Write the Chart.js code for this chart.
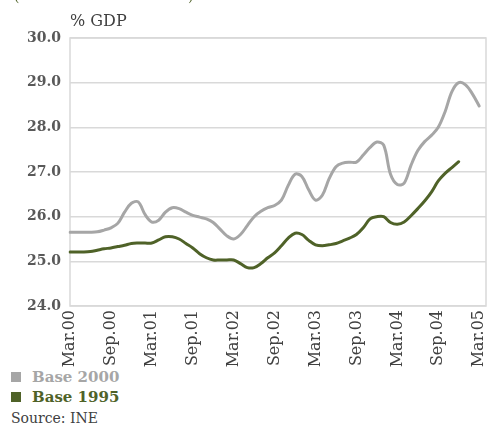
<!DOCTYPE html>
<html>
<head>
<meta charset="utf-8">
<script src="https://cdn.jsdelivr.net/npm/chart.js@4/dist/chart.umd.min.js"></script>
<style>
  body { margin: 0; width: 487px; height: 425px; background: #fff; position: relative; overflow: hidden; font-family: "DejaVu Serif", serif; }
  #wrap { position: absolute; left: 0; top: 0; width: 487px; height: 368px; }
  .txt { position: absolute; white-space: nowrap; line-height: 1; }
  .unit { left: 70px; top: 13px; font-size: 16px; color: #404040; }
  .paren { top: -11px; font-size: 14px; color: #4f6228; }
  .leg { left: 11px; font-size: 15px; font-weight: bold; }
  .leg span { display: inline-block; width: 10px; height: 10px; margin-right: 11px; vertical-align: 0px; }
  .src { left: 11px; top: 411px; font-size: 14px; color: #404040; }
</style>
</head>
<body>
<div id="wrap"><canvas id="chart"></canvas></div>
<div class="txt paren" style="left:14px">(</div>
<div class="txt paren" style="left:188px">)</div>
<div class="txt unit">% GDP</div>
<div class="txt leg" style="top:370px;color:#a6a6a6"><span style="background:#a6a6a6"></span>Base 2000</div>
<div class="txt leg" style="top:390px;color:#4f6228"><span style="background:#4f6228"></span>Base 1995</div>
<div class="txt src">Source: INE</div>
<script>
/***************************************
 * Data (monthly, Mar.00 - Apr.05)
 ***************************************/
const monthNames = ['Mar', 'Apr', 'May', 'Jun', 'Jul', 'Aug', 'Sep', 'Oct', 'Nov', 'Dec', 'Jan', 'Feb'];

const base2000 = [
  25.65, 25.65, 25.65, 25.65, 25.66, 25.70, 25.75, 25.85, 26.10, 26.30, 26.33, 26.05,
  25.88, 25.92, 26.10, 26.20, 26.18, 26.10, 26.03, 25.99, 25.95, 25.87, 25.72, 25.57,
  25.50, 25.60, 25.80, 26.00, 26.12, 26.20, 26.25, 26.37, 26.70, 26.95, 26.90, 26.60,
  26.37, 26.48, 26.85, 27.12, 27.20, 27.22, 27.22, 27.38, 27.55, 27.67, 27.60, 26.95,
  26.72, 26.75, 27.15, 27.48, 27.68, 27.82, 28.00, 28.35, 28.80, 29.00, 28.95, 28.75,
  28.48
];

const base1995 = [
  25.21, 25.21, 25.21, 25.22, 25.25, 25.28, 25.30, 25.33, 25.36, 25.40, 25.41, 25.41,
  25.41, 25.48, 25.55, 25.55, 25.50, 25.40, 25.30, 25.17, 25.08, 25.03, 25.03, 25.03,
  25.03, 24.95, 24.86, 24.86, 24.95, 25.08, 25.19, 25.35, 25.52, 25.63, 25.60, 25.47,
  25.37, 25.35, 25.37, 25.40, 25.46, 25.52, 25.60, 25.75, 25.95, 26.00, 26.00, 25.87,
  25.83, 25.88, 26.02, 26.18, 26.35, 26.55, 26.80, 26.97, 27.10, 27.23
];

// 62 month labels from Mar.00 to Apr.05
const labels = [];
for (let i = 0; i < 62; i++) {
  const yr = Math.floor((i + 2) / 12);
  labels.push(monthNames[i % 12] + '.' + String(yr).padStart(2, '0'));
}

/***************************************
 * Plot frame plugin
 ***************************************/
const frame = {
  id: 'frame',
  beforeDatasetsDraw(chart) {
    const a = chart.chartArea, ctx = chart.ctx;
    ctx.save();
    ctx.strokeStyle = '#d9d9d9';
    ctx.lineWidth = 1.5;
    ctx.strokeRect(a.left, a.top, a.right - a.left, a.bottom - a.top);
    ctx.restore();
  }
};

const ctx = document.getElementById('chart').getContext('2d');
new Chart(ctx, {
  type: 'line',
  data: {
    labels: labels,
    datasets: [{
      label: 'Base 2000',
      data: base2000,
      borderColor: '#a6a6a6',
      borderWidth: 3,
      pointRadius: 0,
      tension: 0.35,
      borderCapStyle: 'round'
    }, {
      label: 'Base 1995',
      data: base1995,
      borderColor: '#4f6228',
      borderWidth: 3,
      pointRadius: 0,
      tension: 0.35,
      borderCapStyle: 'round'
    }]
  },
  options: {
    responsive: true,
    maintainAspectRatio: false,
    animation: false,
    layout: { padding: { top: 38, right: 1, left: 0, bottom: 0 } },
    plugins: { legend: { display: false }, tooltip: { enabled: false } },
    scales: {
      x: {
        offset: false,
        grid: { display: false, drawTicks: false },
        border: { display: false },
        afterFit: s => { s.height = 62; s.paddingLeft = 0; s.paddingRight = 0; },
        ticks: {
          autoSkip: false,
          maxRotation: 90,
          minRotation: 90,
          padding: 4,
          color: '#404040',
          font: { family: 'DejaVu Serif', size: 16 },
          callback: (v, i) => (i % 6 === 0 ? labels[i] : '')
        }
      },
      y: {
        min: 24,
        max: 30,
        grid: { color: '#d9d9d9', lineWidth: 1.5, drawTicks: false },
        border: { display: false },
        afterFit: s => { s.width = 70; s.paddingTop = 0; s.paddingBottom = 0; },
        ticks: {
          stepSize: 1,
          padding: 9,
          color: '#595959',
          font: { family: 'DejaVu Serif', size: 14, weight: 'bold' },
          callback: v => v.toFixed(1)
        }
      }
    }
  },
  plugins: [frame]
});
</script>
</body>
</html>
